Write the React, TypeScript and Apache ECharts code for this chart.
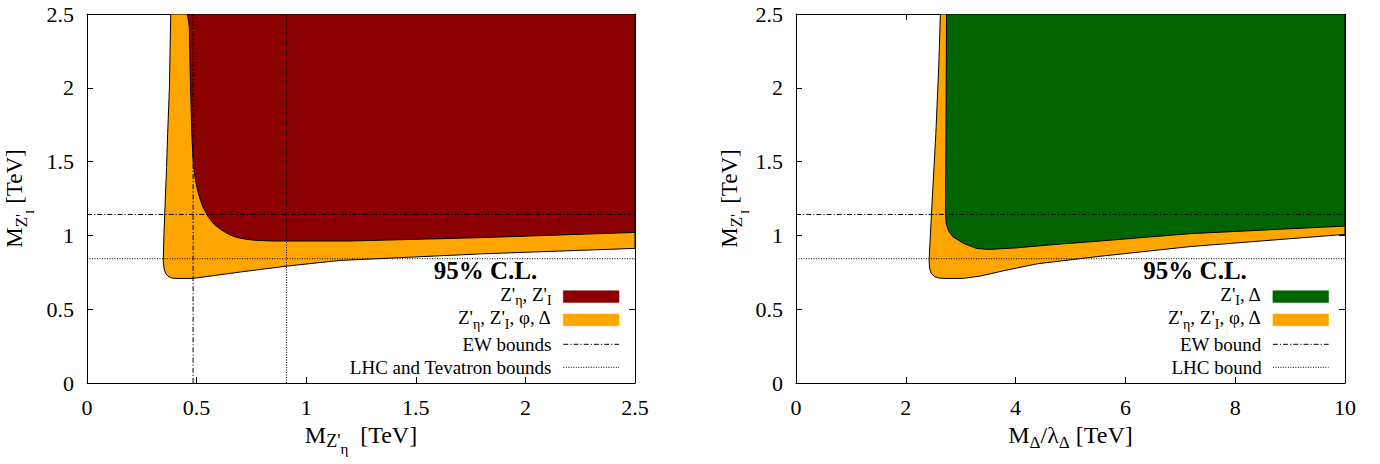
import React, { useEffect, useRef } from "react";
import * as echarts from "echarts";

const FONT = "Liberation Serif, Times New Roman, serif";

// ---------- data ----------
const etaAxisMax = 2.5;
const etaTicksInterval = 0.5;
const deltaAxisMax = 10;
const deltaTicksInterval = 2;
const zIAxisMax = 2.5;
const zITicksInterval = 0.5;

// Left panel: M_Z'eta vs M_Z'I (TeV)
const leftOrangeRegion: number[][] = [
  [0.382, 2.5], [0.376, 2.0], [0.368, 1.69], [0.363, 1.46], [0.357, 1.24],
  [0.351, 1.01], [0.348, 0.83], [0.351, 0.78], [0.358, 0.745], [0.37, 0.722],
  [0.39, 0.71], [0.42, 0.708], [0.485, 0.709], [0.7, 0.752], [0.9, 0.79],
  [1.15, 0.83], [1.8, 0.875], [2.5, 0.912], [2.5, 2.5],
];
const leftRedRegion: number[][] = [
  [0.458, 2.5], [0.467, 2.41], [0.47, 2.14], [0.478, 1.69], [0.485, 1.486],
  [0.495, 1.37], [0.508, 1.284], [0.528, 1.193], [0.553, 1.126], [0.58, 1.075],
  [0.614, 1.036], [0.65, 1.005], [0.683, 0.986], [0.73, 0.973], [0.774, 0.966],
  [0.85, 0.962], [1.2, 0.962], [1.8, 0.985], [2.5, 1.02], [2.5, 2.5],
];
// Right panel: M_Delta/lambda_Delta vs M_Z'I (TeV)
const rightOrangeRegion: number[][] = [
  [2.63, 2.5], [2.6, 2.14], [2.547, 1.69], [2.468, 1.149], [2.425, 0.833],
  [2.432, 0.78], [2.46, 0.745], [2.52, 0.722], [2.6, 0.711], [2.75, 0.708],
  [3.05, 0.709], [3.35, 0.724], [3.8, 0.762], [4.4, 0.808], [5.5, 0.857],
  [7.2, 0.925], [10, 1.007], [10, 2.5],
];
const rightGreenRegion: number[][] = [
  [2.742, 2.5], [2.724, 1.149], [2.735, 1.08], [2.78, 1.03], [2.86, 0.99],
  [3.05, 0.946], [3.29, 0.912], [3.5, 0.905], [4.0, 0.915], [4.6, 0.935],
  [5.54, 0.962], [7.18, 1.012], [10, 1.063], [10, 2.5],
];

const ewBoundZI = 1.142;
const lhcBoundZI = 0.842;
const ewBoundZEta = 0.484;
const lhcBoundZEta = 0.91;

const RED = "#8b0000";
const ORANGE = "#ffa500";
const GREEN = "#006400";
const DASHDOT = [5, 2, 1.2, 2];
const DOTTED = [1, 1.5];

// ---------- helpers ----------
let measureCanvas: HTMLCanvasElement | null = null;
function measure(t: string, size: number, bold?: boolean) {
  if (!measureCanvas) measureCanvas = document.createElement("canvas");
  const ctx = measureCanvas.getContext("2d")!;
  ctx.font = `${bold ? "bold " : ""}${size}px "Liberation Serif"`;
  return ctx.measureText(t).width;
}
type Piece = { t: string; s: number; dy?: number; bold?: boolean };
function richText(pieces: Piece[], x: number, y: number, align: "left" | "center" | "right", rotation = 0) {
  const widths = pieces.map((p) => measure(p.t, p.s, p.bold));
  const W = widths.reduce((a, b) => a + b, 0);
  let cur = align === "left" ? 0 : align === "center" ? -W / 2 : -W;
  const children = pieces.map((p, i) => {
    const el = {
      type: "text",
      x: cur,
      y: (p.dy || 0) - 0.3375 * p.s,
      style: {
        text: p.t,
        fontSize: p.s,
        fontFamily: FONT,
        fontWeight: p.bold ? "bold" : "normal",
        fill: "#000",
        align: "left",
        verticalAlign: "middle",
      },
    };
    cur += widths[i];
    return el;
  });
  return { type: "group", x, y, rotation, silent: true, children };
}

function regionSeries(points: number[][], color: string, xi: number, yi: number) {
  return {
    type: "custom",
    xAxisIndex: xi,
    yAxisIndex: yi,
    data: points,
    encode: { x: 0, y: 1 },
    clip: true,
    silent: true,
    renderItem: (params: any, api: any) => {
      if (params.dataIndex !== 0) return null;
      const pts = points.map((p) => api.coord(p));
      return {
        type: "polygon",
        shape: { points: pts },
        style: { fill: color, stroke: "#000", lineWidth: 1 },
      };
    },
  };
}

function lineSeries(data: number[][], dash: number[], xi: number, yi: number) {
  return {
    type: "line",
    xAxisIndex: xi,
    yAxisIndex: yi,
    data,
    symbol: "none",
    silent: true,
    lineStyle: { color: "#000", width: 1, type: dash },
  };
}

function axis(gridIndex: number, max: number, interval: number, position: string, showLabel: boolean) {
  return {
    type: "value",
    gridIndex,
    min: 0,
    max,
    interval,
    position,
    axisLine: { show: true, onZero: false, lineStyle: { color: "#000", width: 1 } },
    axisTick: { show: true, inside: true, length: 6, lineStyle: { color: "#000", width: 1 } },
    axisLabel: { show: showLabel, color: "#000", fontSize: 22, fontFamily: FONT, margin: 13 },
    splitLine: { show: false },
  };
}

const L = { left: 87, top: 14, width: 548, height: 369 };
const R = { left: 796, top: 14, width: 549, height: 369 };

function legend(dx: number, textRight: number, row1: Piece[], row3: string, row4: string, fill1: string) {
  const sx = 563.3 + dx;
  const sw = 55.7;
  return [
    richText([{ t: "95% C.L.", s: 25, bold: true }], 485.5 + dx, 279.3, "center"),
    richText(row1, textRight, 300.5, "right"),
    { type: "rect", silent: true, shape: { x: sx, y: 290.7, width: sw, height: 11.7 }, style: { fill: fill1, stroke: fill1, lineWidth: 0.5 } },
    richText(
      [
        { t: "Z'", s: 19 },
        { t: "η", s: 14, dy: 5 },
        { t: ", Z'", s: 19 },
        { t: "I", s: 14, dy: 5 },
        { t: ", φ, Δ", s: 19 },
      ],
      textRight,
      324,
      "right"
    ),
    { type: "rect", silent: true, shape: { x: sx, y: 314, width: sw, height: 11.7 }, style: { fill: ORANGE, stroke: ORANGE, lineWidth: 0.5 } },
    richText([{ t: row3, s: 19 }], textRight, 350.5, "right"),
    { type: "line", silent: true, shape: { x1: sx, y1: 344.3, x2: sx + sw, y2: 344.3 }, style: { stroke: "#000", lineWidth: 1, lineDash: DASHDOT } },
    richText([{ t: row4, s: 19 }], textRight, 373.5, "right"),
    { type: "line", silent: true, shape: { x1: sx, y1: 367.3, x2: sx + sw, y2: 367.3 }, style: { stroke: "#000", lineWidth: 1, lineDash: DOTTED } },
  ];
}

export default function App() {
  const ref = useRef<HTMLDivElement>(null);
  useEffect(() => {
    if (!ref.current) return;
    const chart = echarts.init(ref.current, null, { renderer: "svg" });
    const yTitle: Piece[] = [
      { t: "M", s: 23 },
      { t: "Z'", s: 17, dy: 5 },
      { t: "I", s: 13, dy: 12 },
      { t: " [TeV]", s: 23 },
    ];
    const graphic: any[] = [
      // axis titles
      richText(
        [
          { t: "M", s: 24 },
          { t: "Z'", s: 18, dy: 4 },
          { t: "η", s: 15, dy: 11 },
          { t: "  [TeV]", s: 24 },
        ],
        L.left + L.width / 2,
        443.3,
        "center"
      ),
      richText(
        [
          { t: "M", s: 24 },
          { t: "Δ", s: 17, dy: 5 },
          { t: "/λ", s: 24 },
          { t: "Δ", s: 17, dy: 5 },
          { t: " [TeV]", s: 24 },
        ],
        R.left + R.width / 2,
        443.3,
        "center"
      ),
      richText(yTitle, 22, 198.5, "center", Math.PI / 2),
      richText(yTitle, 737, 198.5, "center", Math.PI / 2),
      ...legend(
        0,
        551.7,
        [
          { t: "Z'", s: 19 },
          { t: "η", s: 14, dy: 5 },
          { t: ", Z'", s: 19 },
          { t: "I", s: 14, dy: 5 },
        ],
        "EW bounds",
        "LHC and Tevatron bounds",
        RED
      ),
      ...legend(
        709.6,
        1261.7,
        [
          { t: "Z'", s: 19 },
          { t: "I", s: 14, dy: 5 },
          { t: ", Δ", s: 19 },
        ],
        "EW bound",
        "LHC bound",
        GREEN
      ),
    ];

    chart.setOption({
      animation: false,
      grid: [
        { ...L, containLabel: false },
        { ...R, containLabel: false },
      ],
      xAxis: [
        axis(0, etaAxisMax, etaTicksInterval, "bottom", true),
        axis(0, etaAxisMax, etaTicksInterval, "top", false),
        axis(1, deltaAxisMax, deltaTicksInterval, "bottom", true),
        axis(1, deltaAxisMax, deltaTicksInterval, "top", false),
      ],
      yAxis: [
        axis(0, zIAxisMax, zITicksInterval, "left", true),
        axis(0, zIAxisMax, zITicksInterval, "right", false),
        axis(1, zIAxisMax, zITicksInterval, "left", true),
        axis(1, zIAxisMax, zITicksInterval, "right", false),
      ],
      series: [
        regionSeries(leftOrangeRegion, ORANGE, 0, 0),
        regionSeries(leftRedRegion, RED, 0, 0),
        lineSeries([[0, ewBoundZI], [etaAxisMax, ewBoundZI]], DASHDOT, 0, 0),
        lineSeries([[0, lhcBoundZI], [etaAxisMax, lhcBoundZI]], DOTTED, 0, 0),
        lineSeries([[ewBoundZEta, 0], [ewBoundZEta, zIAxisMax]], DASHDOT, 0, 0),
        lineSeries([[lhcBoundZEta, 0], [lhcBoundZEta, zIAxisMax]], DOTTED, 0, 0),
        regionSeries(rightOrangeRegion, ORANGE, 2, 2),
        regionSeries(rightGreenRegion, GREEN, 2, 2),
        lineSeries([[0, ewBoundZI], [deltaAxisMax, ewBoundZI]], DASHDOT, 2, 2),
        lineSeries([[0, lhcBoundZI], [deltaAxisMax, lhcBoundZI]], DOTTED, 2, 2),
      ],
      graphic,
    });
    return () => chart.dispose();
  }, []);
  return (
    <div
      ref={ref}
      style={{ position: "fixed", left: 0, top: 0, width: 1380, height: 464, background: "#fff" }}
    />
  );
}
